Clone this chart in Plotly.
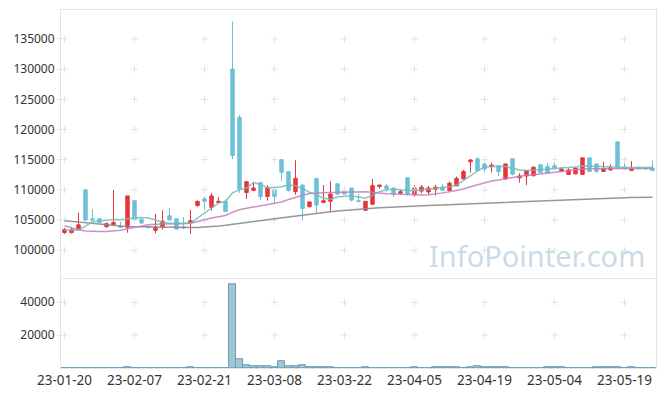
import plotly.graph_objects as go
from plotly.subplots import make_subplots

dates = [
    "23-01-20", "23-01-25", "23-01-26", "23-01-27", "23-01-30", "23-01-31", "23-02-01", "23-02-02", "23-02-03", "23-02-06",
    "23-02-07", "23-02-08", "23-02-09", "23-02-10", "23-02-13", "23-02-14", "23-02-15", "23-02-16", "23-02-17", "23-02-20",
    "23-02-21", "23-02-22", "23-02-23", "23-02-24", "23-02-27", "23-02-28", "23-03-02", "23-03-03", "23-03-06", "23-03-07",
    "23-03-08", "23-03-09", "23-03-10", "23-03-13", "23-03-14", "23-03-15", "23-03-16", "23-03-17", "23-03-20", "23-03-21",
    "23-03-22", "23-03-23", "23-03-24", "23-03-27", "23-03-28", "23-03-29", "23-03-30", "23-03-31", "23-04-03", "23-04-04",
    "23-04-05", "23-04-06", "23-04-07", "23-04-10", "23-04-11", "23-04-12", "23-04-13", "23-04-14", "23-04-17", "23-04-18",
    "23-04-19", "23-04-20", "23-04-21", "23-04-24", "23-04-25", "23-04-26", "23-04-27", "23-04-28", "23-05-02", "23-05-03",
    "23-05-04", "23-05-08", "23-05-09", "23-05-10", "23-05-11", "23-05-12", "23-05-15", "23-05-16", "23-05-17", "23-05-18",
    "23-05-19", "23-05-22", "23-05-23", "23-05-24", "23-05-25",
]

open_ = [
    102900, 102900, 103400, 110000, 105200, 105200, 103900, 104200, 104000, 103800,
    108200, 105100, 103900, 103300, 103800, 105700, 105200, 103900, 104500, 107400,
    108500, 107100, 107900, 108100, 130000, 122000, 109550, 109900, 111200, 108900,
    110100, 115000, 113000, 109700, 110800, 107200, 111900, 107900, 108100, 111000,
    109700, 110300, 108200, 106600, 107600, 110550, 110650, 110300, 109450, 112000,
    109200, 109800, 109650, 110100, 110450, 109900, 110650, 111800, 114650, 115150,
    114300, 113850, 114000, 111800, 115150, 112000, 112300, 112350, 114150, 113850,
    114000, 113050, 112550, 112650, 112550, 115300, 114300, 113050, 113300, 117950,
    113750, 113200, 113750, 113600, 113600,
]
high = [
    103700, 103800, 106200, 110000, 106800, 105200, 104600, 110000, 104700, 109000,
    108300, 105200, 104000, 106000, 106600, 107000, 105200, 105500, 106700, 108200,
    108900, 109500, 108800, 108100, 137900, 122400, 111400, 111300, 111300, 110800,
    110100, 115100, 113000, 114900, 110900, 108000, 111900, 110800, 111400, 111000,
    110200, 110300, 109300, 108100, 111800, 110800, 110950, 110300, 110100, 112000,
    110800, 110800, 110650, 110800, 110950, 111400, 112200, 113300, 115100, 115400,
    114950, 114500, 114000, 114300, 115150, 112750, 113300, 113900, 114300, 114400,
    114450, 113800, 113600, 113800, 115300, 115300, 114300, 114600, 114250, 117950,
    114400, 114750, 113750, 113700, 114850,
]
low = [
    102700, 102800, 103200, 104800, 104900, 104500, 103700, 104100, 103700, 102900,
    105000, 104400, 103600, 102800, 103400, 105000, 103400, 103500, 102700, 107200,
    106600, 106600, 107700, 106400, 115100, 109500, 108500, 109800, 108300, 108200,
    107800, 111400, 109700, 109200, 104900, 107100, 106100, 107800, 106500, 109200,
    109300, 108100, 108000, 106500, 107500, 110200, 109700, 108800, 109300, 109050,
    108900, 109450, 109200, 109050, 109950, 109900, 110650, 111800, 112850, 113200,
    112900, 112900, 112300, 111700, 112400, 111200, 110800, 112200, 112800, 112850,
    113300, 113000, 112500, 112600, 112500, 113000, 112850, 113000, 113150, 113450,
    113400, 113150, 113400, 113400, 113200,
]
close = [
    103400, 103400, 104200, 105000, 105000, 104600, 104400, 104600, 103800, 109000,
    105100, 104500, 103800, 103800, 104800, 105000, 103500, 103700, 104900, 108100,
    108100, 109000, 108100, 106400, 115700, 110100, 111350, 110300, 108900, 110400,
    108900, 112900, 109900, 111900, 106900, 108000, 107500, 108200, 109300, 109300,
    109300, 108300, 108100, 108100, 110700, 110800, 110200, 109300, 109700, 109300,
    110300, 110450, 110300, 110450, 109950, 111100, 111900, 113050, 114950, 113200,
    113450, 114100, 113050, 114300, 112600, 112300, 113150, 113750, 112900, 112850,
    113650, 113450, 113300, 113600, 115300, 113050, 113050, 113500, 113650, 113600,
    113500, 113650, 113500, 113500, 113200,
]

ma_short = [
    103350, 103300, 103350, 104000, 104700, 104850, 105000, 105100, 105050, 105250,
    105350, 105400, 105350, 105000, 104600, 104450, 104400, 104450, 104500, 105300,
    106200, 107000, 107800, 108100, 109500, 110000, 110300, 111200, 110900, 110300,
    110400, 110500, 110800, 110700, 110200, 109600, 109200, 108600, 108400, 108800,
    108950, 109000, 108800, 108600, 109100, 109700, 110000, 110100, 110000, 109900,
    109850, 110000, 110100, 110200, 110300, 110500, 110800, 111600, 112400, 113100,
    113800, 113900, 113900, 113850, 113600, 113300, 113200, 113250, 113350, 113400,
    113550, 113600, 113650, 113800, 113950, 113900, 113850, 113850, 113800, 113750,
    113700, 113700, 113700, 113720, 113750,
]
ma_mid = [
    104050, 103700, 103400, 103200, 103100, 103100, 103100, 103150, 103300, 103550,
    103800, 104050, 104200, 104300, 104370, 104400, 104400, 104400, 104450, 104750,
    105100, 105350, 105550, 105750, 106300, 106700, 106950, 107150, 107350, 107550,
    107750, 108000, 108400, 108800, 109100, 109400, 109500, 109500, 109550, 109580,
    109600, 109620, 109650, 109700, 109600, 109450, 109350, 109300, 109250, 109200,
    109150, 109150, 109170, 109300, 109500, 109700, 109880, 110150, 110500, 110850,
    111150, 111450, 111650, 111850, 112050, 112250, 112400, 112500, 112650, 112800,
    112950, 113100, 113200, 113350, 113450, 113500, 113520, 113530, 113540, 113550,
    113560, 113550, 113540, 113520, 113500,
]
ma_long = [
    104870, 104750, 104620, 104500, 104370, 104280, 104190, 104100, 104010, 103920,
    103890, 103860, 103830, 103800, 103770, 103760, 103760, 103760, 103760, 103780,
    103830, 103920, 104030, 104150, 104280, 104420, 104570, 104720, 104880, 105040,
    105200, 105360, 105530, 105700, 105850, 106000, 106130, 106260, 106390, 106510,
    106620, 106720, 106810, 106890, 106960, 107030, 107100, 107160, 107220, 107280,
    107330, 107380, 107420, 107460, 107510, 107560, 107610, 107660, 107710, 107760,
    107810, 107860, 107910, 107960, 108010, 108060, 108110, 108160, 108210, 108260,
    108310, 108360, 108410, 108450, 108490, 108530, 108570, 108600, 108630, 108660,
    108690, 108720, 108750, 108770, 108790,
]

volume = [
    0, 0, 0, 0, 0, 0, 0, 0, 0, 400,
    0, 0, 0, 0, 0, 0, 0, 0, 400, 0,
    0, 0, 0, 0, 51000, 5300, 1500, 900, 900, 900,
    500, 4200, 900, 900, 1500, 500, 500, 500, 500, 0,
    0, 0, 0, 400, 0, 0, 0, 0, 0, 0,
    400, 0, 0, 400, 400, 400, 400, 0, 400, 900,
    400, 400, 400, 400, 0, 0, 0, 0, 0, 400,
    400, 400, 0, 0, 0, 0, 400, 400, 400, 400,
    0, 400, 0, 0, 0,
]

x_ticks = dates[::10]
price_ticks = [100000, 105000, 110000, 115000, 120000, 125000, 130000, 135000]
vol_ticks = [20000, 40000]

FONT = "Noto Sans"
FRAME = "#e4e4e4"
CROSS = "#e3e3e3"

fig = make_subplots(rows=2, cols=1, shared_xaxes=True, vertical_spacing=0.004,
                    row_heights=[0.751, 0.249])

# grid "+" marks at tick intersections
gx, gy = [], []
for xv in x_ticks:
    for yv in price_ticks:
        gx.append(xv)
        gy.append(yv)
fig.add_trace(go.Scatter(x=gx, y=gy, mode="markers", hoverinfo="skip",
                         marker=dict(symbol="cross-thin", size=5, line=dict(color=CROSS, width=1))),
              row=1, col=1)
vx, vy = [], []
for xv in x_ticks:
    for yv in vol_ticks:
        vx.append(xv)
        vy.append(yv)
fig.add_trace(go.Scatter(x=vx, y=vy, mode="markers", hoverinfo="skip",
                         marker=dict(symbol="cross-thin", size=5, line=dict(color=CROSS, width=1))),
              row=2, col=1)

fig.add_trace(go.Scatter(x=dates, y=ma_long, mode="lines", hoverinfo="skip",
                         line=dict(color="rgba(140,140,140,0.9)", width=1.5)), row=1, col=1)
fig.add_trace(go.Scatter(x=dates, y=ma_mid, mode="lines", hoverinfo="skip",
                         line=dict(color="rgba(195,125,190,0.85)", width=1.5)), row=1, col=1)
fig.add_trace(go.Scatter(x=dates, y=ma_short, mode="lines", hoverinfo="skip",
                         line=dict(color="rgba(110,190,180,0.85)", width=1.5)), row=1, col=1)

fig.add_trace(go.Candlestick(
    x=dates, open=open_, high=high, low=low, close=close,
    increasing=dict(line=dict(color="#e8343b", width=1), fillcolor="#e8343b"),
    decreasing=dict(line=dict(color="#6cc0d8", width=1), fillcolor="#6cc0d8"),
    whiskerwidth=0,
), row=1, col=1)

fig.add_trace(go.Bar(x=dates, y=volume,
                     marker=dict(color="#a2c5d5", line=dict(color="#6a9cb4", width=1))),
              row=2, col=1)

axis_common = dict(type="category", categoryorder="array", categoryarray=dates,
                   range=[-0.5, len(dates) - 0.5], showgrid=False, zeroline=False,
                   showline=True, linecolor=FRAME, linewidth=1, mirror=True,
                   tickvals=x_ticks, ticktext=x_ticks, ticks="", automargin=False)
fig.update_xaxes(**axis_common)
fig.update_xaxes(showticklabels=False, rangeslider=dict(visible=False), row=1, col=1)
fig.update_xaxes(showticklabels=True, tickfont=dict(size=13.5, color="#333", family=FONT), row=2, col=1)

yax_common = dict(tickformat="d", showgrid=False, zeroline=False, showline=True,
                  linecolor=FRAME, mirror=True, ticks="outside", ticklen=3, tickcolor=FRAME,
                  automargin=False, tickfont=dict(size=12, color="#333", family=FONT))
fig.update_yaxes(range=[95430, 139800], tickvals=price_ticks, row=1, col=1, **yax_common)
fig.update_yaxes(range=[0, 54000], tickvals=vol_ticks, row=2, col=1, **yax_common)

fig.add_annotation(text="InfoPointer.com", xref="paper", yref="paper", x=0.80, y=0.313,
                   xanchor="center", yanchor="middle", showarrow=False,
                   font=dict(family=FONT, size=29, color="rgba(165,195,212,0.6)"))

# the page body adds an 8px offset, so the figure is sized to compensate
fig.update_layout(
    width=657, height=388,
    margin=dict(l=53, r=9, t=2, b=28, autoexpand=False),
    paper_bgcolor="white", plot_bgcolor="white",
    showlegend=False, bargap=0,
    font=dict(family=FONT, size=12, color="#333"),
    hovermode=False,
)

fig.write_html("out.html")
